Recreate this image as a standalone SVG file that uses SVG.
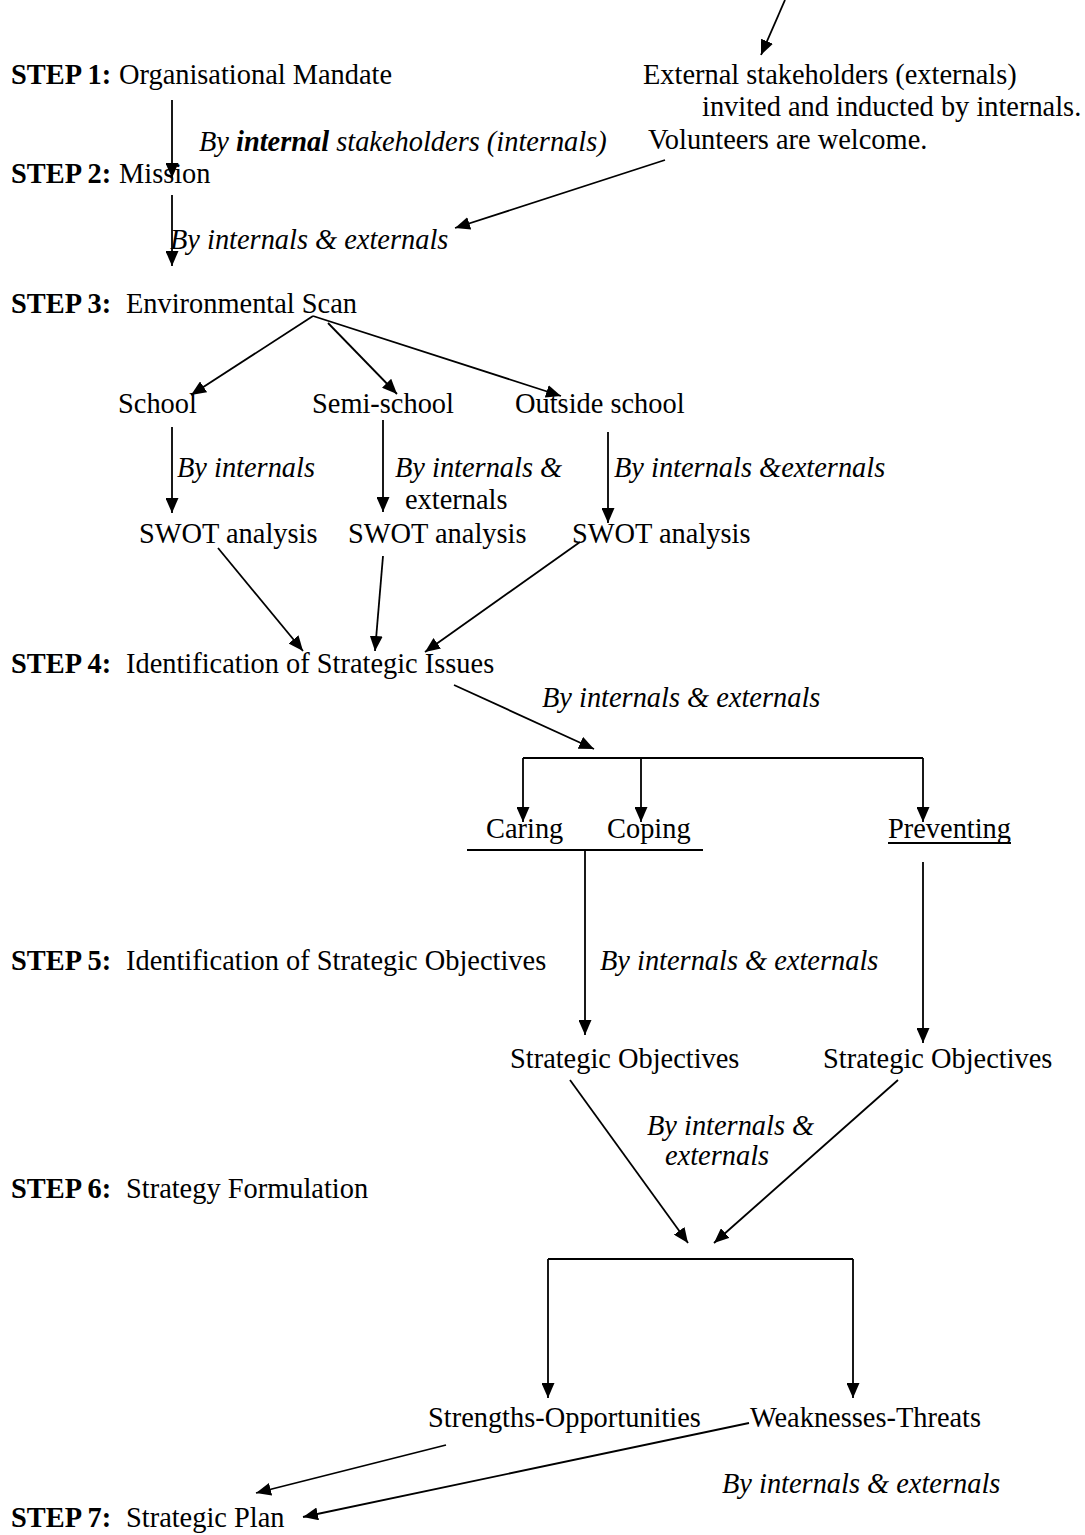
<svg xmlns="http://www.w3.org/2000/svg" width="1085" height="1535" viewBox="0 0 1085 1535">
  <defs>
    <marker id="arrow" markerUnits="userSpaceOnUse" markerWidth="15" markerHeight="13" refX="15" refY="6.5" orient="auto">
      <path d="M0,0 L15,6.5 L0,13 z" fill="#000"/>
    </marker>
  </defs>
  <style>
    text { font-family: "Liberation Serif", "Times New Roman", serif; font-size: 28.4px; fill: #000; }
    .step { font-weight: bold; }
    .by { font-style: italic; }
    .conn line, .conn polyline { stroke: #000; stroke-width: 1.8; fill: none; }
    .arr { marker-end: url(#arrow); }
    .rule { stroke: #000; stroke-width: 2; }
  </style>
  <rect width="1085" height="1535" fill="#fff"/>

  <!-- connectors -->
  <g id="connectors" class="conn">
    <line class="arr" x1="785" y1="0" x2="761" y2="55"/>
    <line class="arr" x1="172" y1="100" x2="172" y2="178"/>
    <line class="arr" x1="172" y1="195" x2="172" y2="266"/>
    <line class="arr" x1="665" y1="160" x2="455" y2="228"/>
    <line class="arr" x1="313" y1="316" x2="191" y2="395"/>
    <line class="arr" x1="328" y1="323" x2="397" y2="394"/>
    <line class="arr" x1="313" y1="316" x2="561" y2="396"/>
    <line class="arr" x1="172" y1="427" x2="172" y2="513"/>
    <line class="arr" x1="383" y1="420" x2="383" y2="512"/>
    <line class="arr" x1="608" y1="432" x2="608" y2="523"/>
    <line class="arr" x1="218" y1="548" x2="303" y2="651"/>
    <line class="arr" x1="383" y1="556" x2="375" y2="651"/>
    <line class="arr" x1="580" y1="542" x2="425" y2="652"/>
    <line class="arr" x1="454" y1="685" x2="594" y2="749"/>
    <polyline points="523,758 923,758"/>
    <line class="arr" x1="523" y1="758" x2="523" y2="822"/>
    <line class="arr" x1="641" y1="758" x2="641" y2="822"/>
    <line class="arr" x1="923" y1="758" x2="923" y2="822"/>
    <line class="arr" x1="585" y1="850" x2="585" y2="1035"/>
    <line class="arr" x1="923" y1="862" x2="923" y2="1043"/>
    <line class="arr" x1="570" y1="1080" x2="688" y2="1243"/>
    <line class="arr" x1="898" y1="1080" x2="714" y2="1243"/>
    <polyline points="548,1259 853,1259"/>
    <line class="arr" x1="548" y1="1259" x2="548" y2="1398"/>
    <line class="arr" x1="853" y1="1259" x2="853" y2="1398"/>
    <line class="arr" x1="446" y1="1445" x2="256" y2="1493"/>
    <line class="arr" x1="749" y1="1423" x2="303" y2="1517"/>
  </g>

  <!-- step labels -->
  <g id="step1"><text x="11" y="84"><tspan class="step">STEP 1:</tspan><tspan x="119">Organisational Mandate</tspan></text></g>
  <g id="step2"><text x="11" y="183"><tspan class="step">STEP 2:</tspan><tspan x="119">Mission</tspan></text></g>
  <g id="step3"><text x="11" y="313"><tspan class="step">STEP 3:</tspan><tspan x="126">Environmental Scan</tspan></text></g>
  <g id="step4"><text x="11" y="673"><tspan class="step">STEP 4:</tspan><tspan x="126">Identification of Strategic Issues</tspan></text></g>
  <g id="step5"><text x="11" y="970"><tspan class="step">STEP 5:</tspan><tspan x="126">Identification of Strategic Objectives</tspan></text></g>
  <g id="step6"><text x="11" y="1198"><tspan class="step">STEP 6:</tspan><tspan x="126">Strategy Formulation</tspan></text></g>
  <g id="step7"><text x="11" y="1527"><tspan class="step">STEP 7:</tspan><tspan x="126">Strategic Plan</tspan></text></g>

  <!-- external stakeholders note -->
  <g id="externals">
    <text x="643" y="84">External stakeholders (externals)</text>
    <text x="702" y="116">invited and inducted by internals.</text>
    <text x="648" y="149">Volunteers are welcome.</text>
  </g>

  <!-- scan branches -->
  <g id="school"><text x="118" y="413">School</text></g>
  <g id="semi-school"><text x="312" y="413">Semi-school</text></g>
  <g id="outside-school"><text x="515" y="413">Outside school</text></g>
  <g id="swot-school"><text x="139" y="543">SWOT analysis</text></g>
  <g id="swot-semi"><text x="348" y="543">SWOT analysis</text></g>
  <g id="swot-outside"><text x="572" y="543">SWOT analysis</text></g>

  <!-- strategic issues -->
  <g id="caring-coping">
    <text x="486" y="838">Caring</text>
    <text x="607" y="838">Coping</text>
    <line class="rule" x1="467" y1="850" x2="703" y2="850"/>
  </g>
  <g id="preventing">
    <text x="888" y="838">Preventing</text>
    <line class="rule" x1="888" y1="843" x2="1011" y2="843"/>
  </g>

  <!-- objectives -->
  <g id="objectives-left"><text x="510" y="1068">Strategic Objectives</text></g>
  <g id="objectives-right"><text x="823" y="1068">Strategic Objectives</text></g>

  <!-- strategy outcomes -->
  <g id="so"><text x="428" y="1427">Strengths-Opportunities</text></g>
  <g id="wt"><text x="750" y="1427">Weaknesses-Threats</text></g>

  <!-- who takes part -->
  <g id="labels">
    <text class="by" x="199" y="151">By <tspan font-weight="bold">internal</tspan> stakeholders (internals)</text>
    <text class="by" x="170" y="249">By internals &amp; externals</text>
    <text class="by" x="177" y="477">By internals</text>
    <text class="by" x="395" y="477">By internals &amp;</text>
    <text x="405" y="509">externals</text>
    <text class="by" x="614" y="477">By internals &amp;externals</text>
    <text class="by" x="542" y="707">By internals &amp; externals</text>
    <text class="by" x="600" y="970">By internals &amp; externals</text>
    <text class="by" x="647" y="1135">By internals &amp;</text>
    <text class="by" x="665" y="1165">externals</text>
    <text class="by" x="722" y="1493">By internals &amp; externals</text>
  </g>
</svg>
